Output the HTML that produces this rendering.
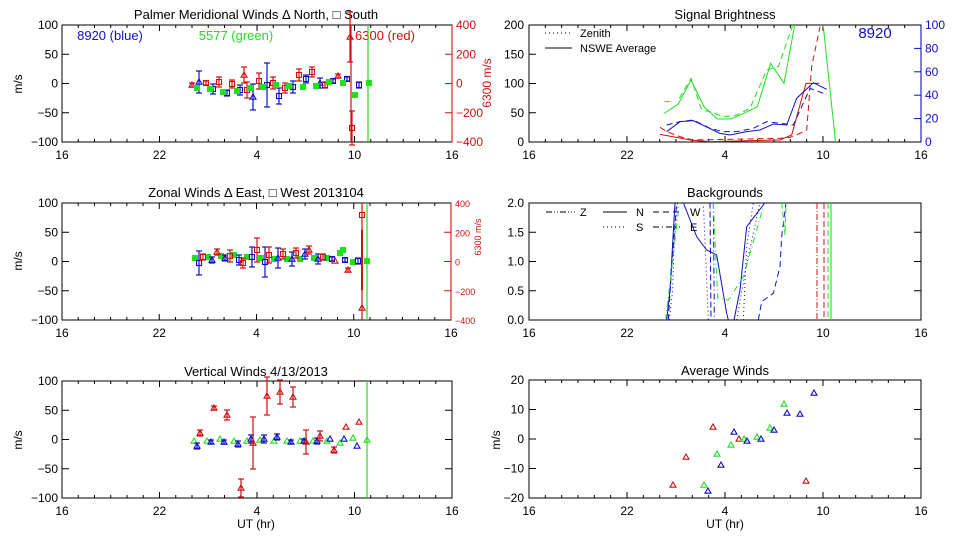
<!DOCTYPE html>
<html><head><meta charset="utf-8"><style>
body{margin:0;background:#fff;}
svg{display:block;font-family:"Liberation Sans",sans-serif;}
</style></head><body>
<svg id="s" width="960" height="540" xmlns="http://www.w3.org/2000/svg"></svg>
<script>
const S=document.getElementById('s');let h='';
const R='#d01010',G='#20e020',B='#1010c0',K='#000';
function L(x1,y1,x2,y2,c,w,d){h+=`<line x1="${x1}" y1="${y1}" x2="${x2}" y2="${y2}" stroke="${c}" stroke-width="${w||1}"${d?` stroke-dasharray="${d}"`:''}/>`;}
function P(pts,c,d){h+=`<polyline points="${pts.map(p=>p.join(',')).join(' ')}" fill="none" stroke="${c}" stroke-width="1"${d?` stroke-dasharray="${d}"`:''}/>`;}
function T(x,y,t,o){o=o||{};h+=`<text x="${x}" y="${y}" font-size="${o.s||12}" fill="${o.c||K}" text-anchor="${o.a||'middle'}"${o.r?` transform="rotate(${o.r} ${x} ${y})"`:''}>${t}</text>`;}
function tri(x,y,c){h+=`<polygon points="${x},${y-3} ${x-3},${y+2.2} ${x+3},${y+2.2}" fill="none" stroke="${c}" stroke-width="1.1"/>`;}
function sq(x,y,c,f){h+=`<rect x="${x-2.5}" y="${y-2.5}" width="5" height="5" fill="${f?c:'none'}" stroke="${c}" stroke-width="1.1"/>`;}
function eb(x,y,e,c){if(e<2)return;L(x,y-e,x,y+e,c,1.2);L(x-3,y-e,x+3,y-e,c,1.2);L(x-3,y+e,x+3,y+e,c,1.2);}
function frame(x0,x1,y0,y1,ylab,yv,rightTicks){
 h+=`<rect x="${x0}" y="${y0}" width="${x1-x0}" height="${y1-y0}" fill="none" stroke="#000" stroke-width="1"/>`;
 const w=x1-x0;
 for(let i=0;i<=24;i++){const x=x0+w*i/24;const m=i%6==0?6:3;L(x,y1,x,y1-m,K);L(x,y0,x,y0+m,K);}
 ['16','22','4','10','16'].forEach((t,i)=>T(x0+w*i/4,y1+17,t));
 yv.forEach((t,i)=>{const y=y1-(y1-y0)*i/(yv.length-1);T(x0-4,y+4,t,{a:'end'});if(i>0&&i<yv.length-1){L(x0,y,x0+7,y,K);if(rightTicks)L(x1,y,x1-7,y,K);}});
}
const xL=h_=>62+16.25*(h_-16);
T(256,19,'Palmer Meridional Winds &#916; North, &#9633; South',{s:13});
frame(62,452,25,142,'',['−100','−50','0','50','100'],false);
T(22,84,'m/s',{r:-90});
T(110,40,'8920 (blue)',{c:B,s:13});T(236,40,'5577 (green)',{c:G,s:13});T(385,40,'6300 (red)',{c:R,s:13});
function redAxis(x,y0,y1,small){L(x,y0,x,y1,R,1.1);['−400','−200','0','200','400'].forEach((t,i)=>{const y=y1-(y1-y0)*i/4;T(x+4,y+4,t,{a:'start',c:R,s:small?9:12});if(i>0&&i<4)L(x,y,x-7,y,R,1);});}
redAxis(452,25,142);T(491,83,'6300 m/s',{r:-90,c:R,s:12});
L(351,25,351,142,R,1.2);L(368,25,368,142,G,1.2);
[[192,85,2,'t'],[206,83,2,'s'],[219,82,5,'s'],[232,84,4,'s'],[244,75,8,'t'],[247,90,8,'s'],[259,81,8,'s'],[273,83,6,'s'],[285,88,5,'s'],[299,75,6,'s'],[312,72,5,'s'],[325,85,3,'s'],[338,76,2,'t'],[350,37,25,'t'],[352,128,17,'s']].forEach(p=>{eb(p[0],p[1],p[2],R);p[3]=='t'?tri(p[0],p[1],R):sq(p[0],p[1],R);});
[[199,82,11,'t'],[213,89,5,'s'],[227,93,3,'s'],[240,90,5,'s'],[253,97,13,'t'],[267,85,22,'s'],[279,96,8,'s'],[293,87,6,'s'],[306,79,4,'s'],[320,83,5,'t'],[333,81,2,'s'],[347,79,2,'s'],[359,85,3,'s']].forEach(p=>{eb(p[0],p[1],p[2],B);p[3]=='t'?tri(p[0],p[1],B):sq(p[0],p[1],B);});
[[197,88],[210,89],[223,92],[237,91],[250,88],[263,87],[276,85],[289,86],[303,87],[316,86],[329,82],[343,83],[355,95],[369,83]].forEach(p=>sq(p[0],p[1],G,1));
T(256,197,'Zonal Winds &#916; East, &#9633; West 2013104',{s:13});
frame(62,451,203,320,'',['−100','−50','0','50','100'],false);
T(22,261,'m/s',{r:-90});
redAxis(451,203,320,true);T(481,237,'6300 m/s',{r:-90,c:R,s:9});
L(362,203,362,320,R,1.2);L(367,203,367,320,G,1.2);
[[195,258],[208,257],[221,256],[234,255],[247,257],[261,258],[274,259],[287,259],[300,259],[314,258],[327,258],[340,253],[353,262],[367,261],[343,250]].forEach(p=>sq(p[0],p[1],G,1));
[[199,263,12,'s'],[212,260,3,'t'],[225,258,3,'t'],[239,260,5,'s'],[252,257,10,'s'],[265,262,15,'s'],[278,258,10,'t'],[292,259,7,'t'],[305,254,5,'t'],[318,259,5,'t'],[332,259,2,'s'],[345,260,2,'s'],[358,261,3,'s']].forEach(p=>{eb(p[0],p[1],p[2],B);p[3]=='t'?tri(p[0],p[1],B):sq(p[0],p[1],B);});
[[203,257,3,'s'],[217,252,3,'t'],[230,256,6,'s'],[243,263,5,'s'],[257,250,12,'s'],[269,255,8,'s'],[283,254,5,'s'],[296,253,5,'s'],[309,250,4,'t'],[323,257,3,'s'],[335,261,1,'t'],[348,270,2,'t'],[362,215,1,'s'],[362,308,1,'t']].forEach(p=>{eb(p[0],p[1],p[2],R);p[3]=='t'?tri(p[0],p[1],R):sq(p[0],p[1],R);});
L(362,230,362,290,R,2);
T(256,376,'Vertical Winds 4/13/2013',{s:13});
frame(62,452,381,498,'',['−100','−50','0','50','100'],true);
T(22,440,'m/s',{r:-90});T(256,528,'UT (hr)');
L(367,381,367,498,G,1.2);
[[194,441],[207,441],[220,439],[234,441],[247,441],[260,440],[274,441],[287,441],[300,441],[313,441],[327,441],[340,443],[353,438],[367,440]].forEach(p=>tri(p[0],p[1],G));
[[197,446,3],[211,442,2],[224,442,2],[238,444,3],[251,439,4],[264,439,4],[277,437,3],[291,442,2],[304,441,2],[317,441,3],[330,439,1],[344,439,1],[357,446,1]].forEach(p=>{eb(p[0],p[1],p[2],B);tri(p[0],p[1],B);});
[[200,433,3],[214,408,2],[227,415,5],[241,488,9],[253,443,26],[267,396,19],[280,392,12],[293,397,10],[306,442,12],[320,436,5],[334,450,3],[346,427,1],[359,422,1]].forEach(p=>{eb(p[0],p[1],p[2],R);tri(p[0],p[1],R);});
const Z=p=>p.map(q=>[q[0]/3+480,q[1]/3]);
T(725,19,'Signal Brightness',{s:13});
h+=`<rect x="529" y="25" width="392" height="117" fill="none" stroke="#000" stroke-width="1"/>`;
for(let i=0;i<=24;i++){const x=529+392*i/24;const m=i%6==0?6:3;L(x,142,x,142-m,K);L(x,25,x,25+m,K);}
['16','22','4','10','16'].forEach((t,i)=>T(529+98*i,159,t));
['0','50','100','150','200'].forEach((t,i)=>{const y=142-117*i/4;T(524,y+4,t,{a:'end'});if(i>0&&i<4)L(529,y,536,y,K);});
L(921,25,921,142,B,1.1);
['0','20','40','60','80','100'].forEach((t,i)=>{const y=142-117*i/5;T(925,y+4,t,{a:'start',c:B});if(i>0&&i<5)L(921,y,914,y,B,1);});
L(545,33,570,33,K,1,'1,3');T(580,37,'Zenith',{a:'start',s:11});
L(545,48,572,48,K,1);T(580,52,'NSWE Average',{a:'start',s:11});
T(875,38,'8920',{c:B,s:15});
h+=`<clipPath id="c1"><rect x="529" y="25" width="392" height="117"/></clipPath><g clip-path="url(#c1)">`;
P(Z([[553,340],[595,312],[633,240],[672,320],[712,357],[752,357],[792,340],[832,320],[872,190],[912,250],[945,70]]),G);
P(Z([[1025,60],[1030,80],[1068,440]]),G);
P(Z([[553,305],[575,305]]),G,'6,4');
P(Z([[598,295],[633,235],[665,330],[690,335],[730,350],[770,345],[810,325],[860,210],[895,200],[940,70]]),G,'6,4');
P(Z([[540,403],[590,412],[630,420],[690,425],[900,420],[935,405],[978,250],[1018,250]]),R);
P(Z([[540,382],[560,395],[600,410],[640,420],[900,415],[930,412],[960,400],[980,390],[995,200],[1020,80]]),R,'6,4');
P(Z([[560,395],[600,365],[640,362],[720,400],[750,405],[800,395],[840,390],[880,372],[920,375],[950,295],[1000,248],[1040,268]]),B);
P(Z([[560,375],[600,365],[640,360],[690,385],[730,395],[770,395],[820,385],[860,365],[900,370],[940,375],[990,265],[1030,280]]),B,'6,4');
h+='</g>';
T(725,197,'Backgrounds',{s:13});
h+=`<rect x="529" y="203" width="392" height="117" fill="none" stroke="#000" stroke-width="1"/>`;
['0.0','0.5','1.0','1.5','2.0'].forEach((t,i)=>{const y=320-117*i/4;T(524,y+4,t,{a:'end'});if(i>0&&i<4){L(529,y,536,y,K);L(921,y,914,y,K);}});
['16','22','4','10','16'].forEach((t,i)=>T(529+98*i,337,t));
L(546,212,575,212,K,1,'6,2,1,2,1,2');T(580,216,'Z',{s:11,a:'start'});
L(603,212,627,212,K,1);T(636,216,'N',{s:11,a:'start'});
L(653,212,680,212,K,1,'6,4');T(690,216,'W',{s:11,a:'start'});
L(603,227,627,227,K,1,'1,3');T(636,231,'S',{s:11,a:'start'});
L(653,227,680,227,K,1,'6,3,1,3');T(690,231,'E',{s:11,a:'start'});
const M=p=>p.map(q=>[q[0]/3+480,q[1]/3+180]);
h+=`<clipPath id="c2"><rect x="529" y="203" width="392" height="117"/></clipPath><g clip-path="url(#c2)">`;
P(M([[560,420],[570,330],[585,68]]),B);P(M([[565,420],[575,260],[590,68]]),B,'6,3');
P(M([[568,420],[578,330],[582,200],[592,68]]),B,'1,3');
P(M([[690,68],[693,420]]),B,'6,3');P(M([[700,68],[703,420]]),B,'6,3,1,3');P(M([[670,68],[685,420]]),B,'1,3');
P(M([[610,68],[650,170],[680,210],[710,225],[740,400],[745,420]]),B);
P(M([[762,420],[780,330],[800,140],[855,68]]),B);P(M([[770,420],[800,250],[840,68]]),B,'1,3');
P(M([[790,420],[800,200],[820,68]]),B,'1,3');
P(M([[835,420],[845,365],[880,340],[900,260],[905,170],[918,68]]),B,'6,4');
P(M([[557,420],[598,68]]),G,'6,3,1,3');P(M([[700,68],[713,355],[745,360],[790,290],[850,80]]),G,'6,3,1,3');
P(M([[905,68],[915,165],[918,68]]),G,'6,3');
h+='</g>';
L(817,203,817,320,R,1,'6,2,1,2');L(824,203,824,320,R,1,'6,3');L(828,203,828,320,G,1,'6,3');L(831,203,831,320,G,1.1);
T(725,375,'Average Winds',{s:13});
h+=`<rect x="529" y="380" width="392" height="118" fill="none" stroke="#000" stroke-width="1"/>`;
for(let i=0;i<=24;i++){const x=529+392*i/24;const m=i%6==0?6:3;L(x,498,x,498-m,K);L(x,380,x,380+m,K);}
['16','22','4','10','16'].forEach((t,i)=>T(529+98*i,515,t));
['−20','−10','0','10','20'].forEach((t,i)=>{const y=498-118*i/4;T(524,y+4,t,{a:'end'});if(i>0&&i<4){L(529,y,536,y,K);L(921,y,914,y,K);}});
T(500,440,'m/s',{r:-90});T(725,528,'UT (hr)');
[[673,485],[686,457],[713,427],[739,439],[806,481]].forEach(p=>tri(p[0],p[1],R));
[[704,485],[717,454],[731,445],[744,439],[757,437],[770,428],[784,404]].forEach(p=>tri(p[0],p[1],G));
[[708,491],[721,465],[734,432],[747,441],[761,439],[774,430],[787,413],[800,414],[814,393]].forEach(p=>tri(p[0],p[1],B));
S.innerHTML=h;
</script>
</body></html>
